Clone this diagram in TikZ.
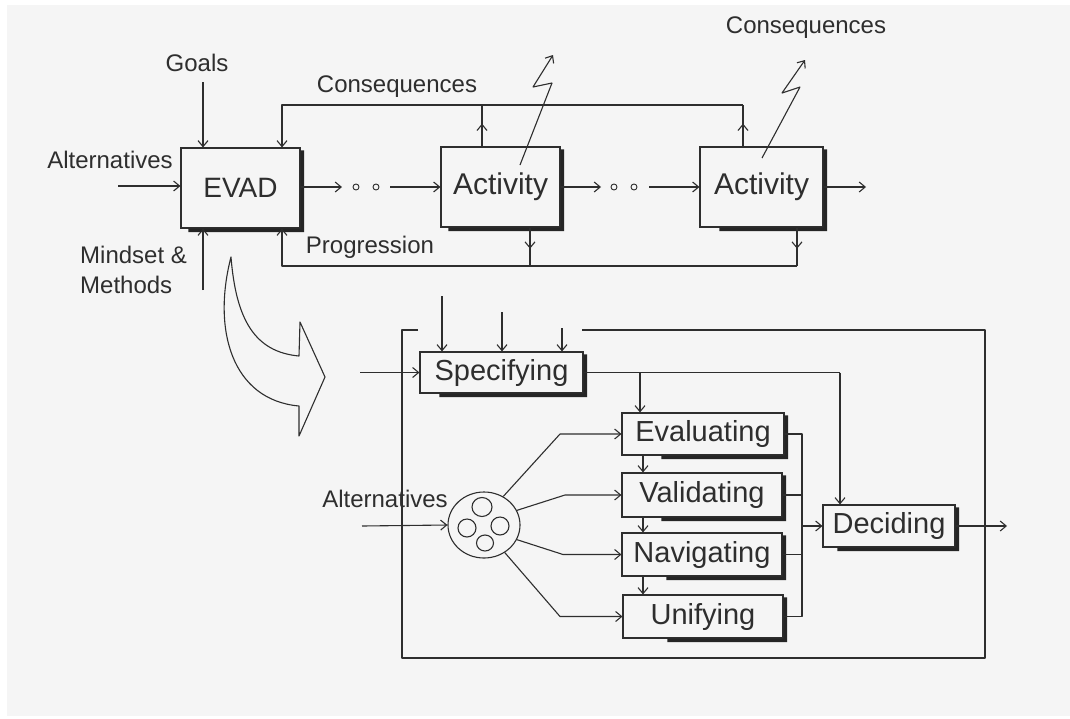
\documentclass[tikz,border=0pt]{standalone}
\usepackage{fontspec}
\setmainfont{Liberation Sans}
\usetikzlibrary{arrows.meta,shapes.geometric,decorations.markings}
\definecolor{ink}{HTML}{2E2E2E}
\definecolor{paper}{HTML}{F5F5F5}
\tikzset{
  line/.style={draw=ink,line width=1.1pt,line join=round},
  arr/.style={line,-{Straight Barb[length=6pt,width=10pt,line width=1.1pt]}},
  midup/.style={postaction={decorate},decoration={markings,mark=at position 0.55 with {\arrow[ink,line width=1.1pt]{Straight Barb[length=6pt,width=10pt]}}}},
  bigbox/.style={draw=ink,line width=1.1pt,fill=paper,inner sep=0pt,minimum height=80pt,text=ink,font=\fontsize{30}{36}\selectfont},
  smallbox/.style={draw=ink,line width=1.1pt,fill=paper,inner sep=0pt,text=ink,font=\fontsize{29}{34}\selectfont},
  lab/.style={text=ink,inner sep=1pt,font=\fontsize{24}{30}\selectfont},
  shd/.style={fill=ink!80!black},
  dotc/.style={circle,draw=ink,line width=0.9pt,inner sep=0pt,minimum size=6pt},
}
% solid L-shaped shadow touching the right and bottom borders
\newcommand\boxshadow[2]{\fill[shd] ([shift={(0,3)}]#1.north east) -- ([shift={(3.5,3)}]#1.north east) -- ([shift={(3.5,3.5)}]#1.south east) -- ([shift={(#2,3.5)}]#1.south west) -- ([shift={(#2,0)}]#1.south west) -- (#1.south east) -- cycle;}
\begin{document}
\begin{tikzpicture}[x=1pt,y=-1pt]
\useasboundingbox (0,0) rectangle (1070,718);
\fill[white] (0,0) rectangle (1070,718);
\fill[paper] (7,5) rectangle (1070,716);

% ---------- upper part ----------
\node[bigbox,minimum width=119pt,font=\fontsize{28}{34}\selectfont] (evad) at (240.5,188) {EVAD};
\node[bigbox,minimum width=119pt] (act1) at (500.5,187) {Activity};
\node[bigbox,minimum width=123pt] (act2) at (761.5,187) {Activity};
\boxshadow{evad}{8}
\boxshadow{act1}{8}
\boxshadow{act2}{20}

\node[lab] (goals) at (197,63) {Goals};
\node[lab] (alt1) at (110,160) {Alternatives};
\node[lab,align=left,anchor=west] (mind) at (79,270) {Mindset \&\\Methods};
\node[lab] (cons1) at (397,87) {Consequences};
\node[lab] (cons2) at (806,28) {Consequences};
\node[lab] (prog) at (370,247) {Progression};

\coordinate (goalsin) at (203,82);
\draw[arr] (goalsin) -- (goalsin |- evad.north);
\coordinate (altin) at (118,186);
\draw[arr] (altin) -- (altin -| evad.west);
\coordinate (mmin) at (203,290);
\draw[arr] (mmin) -- (mmin |- evad.south);

% consequences loop
\coordinate (cq) at (282,105);
\coordinate (cq1) at (482,105);
\coordinate (cq2) at (743,105);
\draw[line,midup] (act1.north -| cq1) -- (cq1);
\draw[line,midup] (act2.north -| cq2) -- (cq2);
\draw[arr] (cq2) -- (cq) -- (cq |- evad.north);

% progression loop
\coordinate (pg) at (282,266);
\coordinate (pg1) at (530,266);
\coordinate (pg2) at (797,266);
\draw[line,midup] (act1.south -| pg1) -- (pg1);
\draw[line,midup] (act2.south -| pg2) -- (pg2);
\draw[arr] (pg2) -- (pg) -- (pg |- evad.south);

% chain
\node[dotc] (d1) at (356,187) {};
\node[dotc] (d2) at (376,187) {};
\node[dotc] (d3) at (614,187) {};
\node[dotc] (d4) at (634,187) {};
\coordinate (c1) at (342,187);
\coordinate (c2) at (390,187);
\coordinate (c3) at (601,187);
\coordinate (c4) at (649,187);
\coordinate (c5) at (866,187);
\draw[arr] (evad.east |- c1) -- (c1);
\draw[arr] (c2) -- (act1.west);
\draw[arr] (act1.east |- c3) -- (c3);
\draw[arr] (c4) -- (act2.west);
\draw[arr] (act2.east |- c5) -- (c5);

% lightning arrows
\coordinate (l1) at (520,165);
\coordinate (l2) at (762,158);
\draw[arr] (l1) -- (552,83) -- (533,87) -- (553,55);
\draw[arr] (l2) -- (800,87) -- (782,93) -- (805,60);

% ---------- big curved arrow ----------
\draw[line,fill=paper] (231,257) .. controls (212,330) and (232,400) .. (299,406) -- (299,436) -- (325,377) -- (300,322) -- (299,356) .. controls (255,352) and (236,320) .. (231,257) -- cycle;

% ---------- lower part ----------
\node[smallbox,minimum width=163pt,minimum height=41pt] (spec) at (501.5,372.5) {Specifying};
\node[smallbox,minimum width=162pt,minimum height=42pt] (eval) at (703,434) {Evaluating};
\node[smallbox,minimum width=160pt,minimum height=44pt] (vali) at (702,495) {Validating};
\node[smallbox,minimum width=160pt,minimum height=43pt] (navi) at (702,554.5) {Navigating};
\node[smallbox,minimum width=160pt,minimum height=43pt] (unif) at (703,616.5) {Unifying};
\node[smallbox,minimum width=132pt,minimum height=42pt] (deci) at (889,526) {Deciding};
\boxshadow{spec}{20}
\boxshadow{eval}{40}
\boxshadow{vali}{40}
\boxshadow{navi}{45}
\boxshadow{unif}{45}
\boxshadow{deci}{15}

% frame
\draw[line] (418,330) -- (402,330) -- (402,658) -- (985,658) -- (985,330) -- (582,330);

% inputs to specifying
\coordinate (s1) at (442,296);
\coordinate (s2) at (502,312);
\coordinate (s3) at (562,328);
\draw[arr] (s1) -- (spec.north -| s1);
\draw[arr] (s2) -- (spec.north -| s2);
\draw[arr] (s3) -- (spec.north -| s3);
\coordinate (sin) at (360,372.5);
\draw[arr] (sin) -- (spec.west);

% specifying outputs
\coordinate (so) at (840,372.5);
\coordinate (sb) at (640,372.5);
\draw[line] (spec.east) -- (so);
\draw[arr] (so) -- (deci.north -| so);
\draw[arr] (sb) -- (eval.north -| sb);

% short arrows between boxes
\coordinate (sx) at (643,0);
\draw[arr] (eval.south -| sx) -- (vali.north -| sx);
\draw[arr] (vali.south -| sx) -- (navi.north -| sx);
\draw[arr] (navi.south -| sx) -- (unif.north -| sx);

% bus to deciding
\coordinate (bus1) at (802,434);
\coordinate (bus4) at (802,616.5);
\draw[line] (eval.east) -- (bus1) -- (bus4) -- (unif.east);
\draw[line] (vali.east) -- (vali.east -| bus1);
\draw[line] (navi.east) -- (navi.east -| bus1);
\draw[arr] (deci.west -| bus1) -- (deci.west);
\coordinate (dout) at (1007,526);
\draw[arr] (deci.east) -- (dout);

% pool of alternatives
\node[draw=ink,line width=1.1pt,ellipse,minimum width=72pt,minimum height=66pt,inner sep=0pt] (pool) at (484,525) {};
\draw[ink,line width=1.1pt] (482,507) ellipse (10 and 9.5);
\draw[ink,line width=1.1pt] (467,528) ellipse (9 and 9);
\draw[ink,line width=1.1pt] (500,526) ellipse (9 and 9);
\draw[ink,line width=1.1pt] (485,543) ellipse (8.5 and 8);
\node[lab] (alt2) at (385,499) {Alternatives};
\coordinate (ain) at (362,526);
\draw[arr] (ain) -- (pool.west);

\draw[arr] (pool.56) -- (560,434) -- (eval.west);
\draw[arr] (pool.24) -- (565,495) -- (vali.west);
\draw[arr] (pool.-24) -- (563,554.5) -- (navi.west);
\draw[arr] (pool.-53) -- (560,616.5) -- (unif.west);
\end{tikzpicture}
\end{document}
